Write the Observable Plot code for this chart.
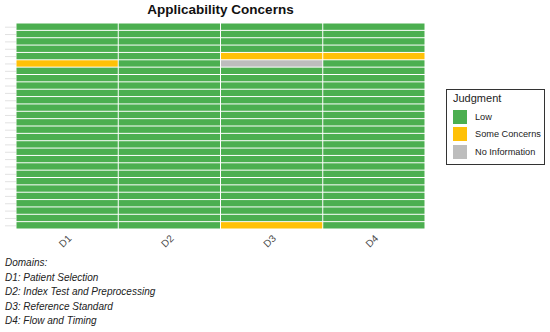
<!DOCTYPE html>
<html>
<head>
<meta charset="utf-8">
<script src="https://cdn.jsdelivr.net/npm/d3@7"></script>
<script src="https://cdn.jsdelivr.net/npm/@observablehq/plot@0.6"></script>
<style>
  html, body { margin: 0; padding: 0; background: #fff; }
  body { width: 550px; height: 332px; position: relative; overflow: hidden; font-family: "Liberation Sans", Arial, sans-serif; }
  #title { position: absolute; left: 0; top: 2px; width: 441px; text-align: center; font-weight: bold; font-size: 13.5px; color: #111; }
  #chart { position: absolute; left: 0; top: 0; }
  #legend { position: absolute; left: 446px; top: 89px; width: 99px; height: 76px; border: 1px solid #333; box-sizing: border-box; font-size: 9.2px; color: #222; }
  #legend .ttl { position: absolute; left: 6px; top: 2px; font-size: 11px; }
  #legend .item { position: absolute; left: 6px; height: 15px; }
  #legend .sw { position: absolute; left: 0; top: 0; width: 14px; height: 14px; }
  #legend .lab { position: absolute; left: 22px; top: 2px; white-space: nowrap; }
  #notes { position: absolute; left: 5px; top: 256px; font-size: 10px; font-style: italic; color: #222; line-height: 14.5px; }
</style>
</head>
<body>
<div id="title">Applicability Concerns</div>
<div id="chart"></div>
<div id="legend"></div>
<div id="notes"></div>
<script>
// ---- data ----
const domains = ["D1", "D2", "D3", "D4"];
const domainNames = ["Patient Selection", "Index Test and Preprocessing", "Reference Standard", "Flow and Timing"];
const studies = d3.range(1, 29); // 28 studies (labels not shown)
const levels = ["Low", "Some Concerns", "No Information"];
const levelColors = ["#4CAF50", "#FFC107", "#BDBDBD"];
// judgments per domain, one per study (L = Low, S = Some Concerns, N = No Information)
const judgD1 = ["L","L","L","L","L","S","L","L","L","L","L","L","L","L","L","L","L","L","L","L","L","L","L","L","L","L","L","L"];
const judgD2 = ["L","L","L","L","L","L","L","L","L","L","L","L","L","L","L","L","L","L","L","L","L","L","L","L","L","L","L","L"];
const judgD3 = ["L","L","L","L","S","N","L","L","L","L","L","L","L","L","L","L","L","L","L","L","L","L","L","L","L","L","L","S"];
const judgD4 = ["L","L","L","L","S","L","L","L","L","L","L","L","L","L","L","L","L","L","L","L","L","L","L","L","L","L","L","L"];

const code = {L: "Low", S: "Some Concerns", N: "No Information"};
const cols = [judgD1, judgD2, judgD3, judgD4];
const table = [];
cols.forEach((arr, i) => arr.forEach((j, k) => table.push({domain: domains[i], study: studies[k], judgment: code[j]})));

const plot = Plot.plot({
  width: 440,
  height: 260,
  marginLeft: 16,
  marginRight: 15,
  marginTop: 23,
  marginBottom: 31,
  style: {fontFamily: "Liberation Sans, Arial, sans-serif", background: "transparent"},
  x: {domain: domains, padding: 0, round: false, axis: null},
  y: {domain: studies, padding: 0, round: false, axis: null, label: null},
  color: {domain: levels, range: levelColors},
  marks: [
    Plot.cell(table, {x: "domain", y: "study", fill: "judgment", insetTop: 0.5, insetBottom: 0.5, insetLeft: 0.5, insetRight: 0.5}),
    Plot.axisY({ticks: studies, tickFormat: () => "", tickSize: 11, stroke: "#e2e2e2", strokeWidth: 1, label: null}),
    Plot.text(domains, {x: d => d, frameAnchor: "bottom", dy: 14, rotate: -45, fontSize: 10, fill: "#4d4d4d", textAnchor: "middle"})
  ]
});
document.getElementById("chart").appendChild(plot);

// legend
const lg = document.getElementById("legend");
lg.innerHTML = '<div class="ttl">Judgment</div>' + levels.map((l, i) =>
  `<div class="item" style="top:${20 + i * 17.3}px"><div class="sw" style="background:${levelColors[i]}"></div><div class="lab">${l}</div></div>`).join("");

// notes
document.getElementById("notes").innerHTML = ["Domains:"].concat(domains.map((d, i) => `${d}: ${domainNames[i]}`)).map(s => `<div>${s}</div>`).join("");
</script>
</body>
</html>
